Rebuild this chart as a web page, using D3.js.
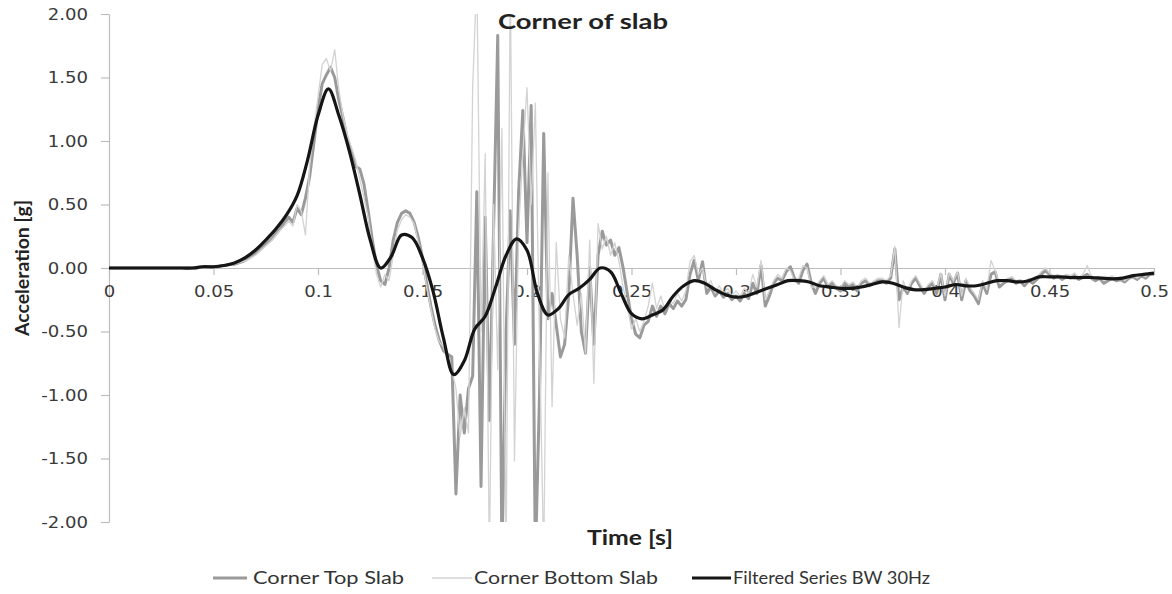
<!DOCTYPE html>
<html>
<head>
<meta charset="utf-8">
<script src="https://cdn.jsdelivr.net/npm/d3@7"></script>
<style>
  html, body { margin: 0; padding: 0; background: #ffffff; }
  svg { display: block; }
</style>
</head>
<body>
<svg id="chart" width="1172" height="594"></svg>
<script>
// Accelerometer records at the corner of the slab, sampled every 2 ms
const sampleStep = 0.002;

const topSlab = [
  0,0,0,0,0,0,0,0,0,0,0,0,0,0,0,0,0,0,0,0,
  0.00,0.00,0.01,0.01,0.01,0.01,0.01,0.02,0.02,0.03,
  0.03,0.04,0.05,0.07,0.09,0.11,0.14,0.17,0.20,0.23,
  0.27,0.31,0.36,0.40,0.36,0.47,0.42,0.55,0.72,0.98,
  1.25,1.45,1.52,1.58,1.50,1.32,1.18,1.02,0.92,0.80,
  0.78,0.66,0.45,0.22,0.02,-0.10,-0.13,0.00,0.22,0.36,
  0.43,0.45,0.43,0.36,0.24,0.08,-0.12,-0.30,-0.45,-0.57,
  -0.65,-0.68,-0.70,-1.78,-1.00,-1.30,-0.95,-0.85,0.60,-1.72,
  0.40,-1.20,0.30,1.83,-2.30,-0.50,0.45,-0.60,0.60,1.24,
  0.20,1.28,-2.30,-1.00,1.06,-0.40,-0.20,-0.45,-0.70,-0.60,
  -0.20,0.55,0.10,-0.50,-0.67,0.00,-0.60,0.10,0.29,0.18,
  0.22,0.10,0.16,0.00,-0.20,-0.40,-0.52,-0.55,-0.45,-0.42,
  -0.30,-0.38,-0.30,-0.36,-0.28,-0.32,-0.26,-0.30,-0.25,-0.05,
  0.06,-0.10,0.05,-0.20,-0.15,-0.22,-0.18,-0.23,-0.20,-0.25,
  -0.22,-0.26,-0.20,-0.24,-0.12,-0.20,0.02,-0.30,-0.22,-0.12,
  -0.08,-0.10,-0.03,0.01,-0.08,-0.12,-0.02,0.03,-0.12,-0.20,
  -0.12,-0.08,-0.15,-0.12,-0.16,-0.18,-0.12,-0.15,-0.13,-0.18,
  -0.12,-0.10,-0.14,-0.12,-0.10,-0.10,-0.12,-0.08,0.15,-0.25,
  -0.15,-0.20,-0.12,-0.08,-0.14,-0.20,-0.15,-0.12,-0.20,-0.05,
  -0.25,-0.05,-0.12,-0.04,-0.25,-0.10,-0.18,-0.22,-0.28,-0.12,
  -0.20,-0.05,-0.03,-0.15,-0.12,-0.10,-0.08,-0.12,-0.10,-0.14,
  -0.10,-0.12,-0.09,-0.05,-0.02,-0.05,-0.08,-0.06,-0.09,-0.07,
  -0.08,-0.06,-0.09,-0.07,-0.05,-0.08,-0.10,-0.08,-0.12,-0.10,
  -0.08,-0.10,-0.09,-0.11,-0.08,-0.07,-0.09,-0.06,-0.08,-0.05,
  -0.05
];

const bottomSlab = [
  0,0,0,0,0,0,0,0,0,0,0,0,0,0,0,0,0,0,0,0,
  0.00,0.00,0.00,0.01,0.01,0.01,0.01,0.02,0.02,0.03,
  0.03,0.04,0.05,0.06,0.08,0.10,0.13,0.16,0.19,0.22,
  0.26,0.30,0.33,0.37,0.33,0.50,0.45,0.26,0.80,1.10,
  1.35,1.60,1.65,1.55,1.72,1.40,1.20,1.05,0.95,0.85,
  0.70,0.55,0.40,0.15,-0.05,-0.15,-0.05,-0.10,0.10,0.30,
  0.38,0.42,0.40,0.35,0.20,0.05,-0.15,-0.32,-0.48,-0.58,
  -0.62,-0.72,-0.80,-0.95,-1.33,-1.10,-1.30,1.42,2.30,-0.50,
  0.90,-2.30,0.50,-0.80,1.10,-2.30,2.30,-1.52,0.30,0.90,
  1.42,0.50,1.30,-0.60,-2.30,0.75,-1.09,0.20,-0.40,-0.55,
  0.10,-0.20,-0.45,-0.20,-0.67,0.22,-0.91,0.35,0.15,0.25,
  0.10,0.20,0.05,-0.15,-0.30,-0.48,-0.40,-0.50,-0.42,-0.30,
  -0.12,-0.32,-0.22,-0.33,-0.25,-0.28,-0.20,-0.26,-0.18,0.05,
  0.10,-0.05,0.00,-0.15,-0.10,-0.20,-0.14,-0.20,-0.16,-0.22,
  -0.18,-0.22,-0.16,-0.20,-0.05,-0.15,0.06,-0.25,-0.18,-0.10,
  -0.05,-0.08,0.00,-0.02,-0.10,-0.08,0.02,0.00,-0.15,-0.15,
  -0.10,-0.06,-0.13,-0.10,-0.14,-0.15,-0.10,-0.13,-0.11,-0.15,
  -0.10,-0.08,-0.12,-0.10,-0.08,-0.08,-0.10,-0.06,0.17,-0.47,
  -0.10,-0.18,-0.10,-0.06,-0.12,-0.18,-0.13,-0.10,-0.17,-0.04,
  -0.22,-0.04,-0.10,-0.03,-0.22,-0.08,-0.15,-0.20,-0.25,-0.10,
  -0.17,0.06,-0.02,-0.12,-0.10,-0.08,-0.07,-0.10,-0.09,-0.12,
  -0.08,-0.10,-0.07,-0.03,0.00,-0.04,-0.06,-0.05,-0.08,-0.05,
  -0.06,-0.04,-0.07,-0.05,0.02,-0.06,-0.08,-0.07,-0.10,-0.08,
  -0.06,-0.09,-0.07,-0.10,-0.07,-0.06,-0.08,-0.05,-0.07,-0.04,
  -0.04
];

// Butterworth 30 Hz filtered signal, every 5 ms
const filteredStep = 0.005;
const filteredSeries = [
  0.00,0.00,0.00,0.00,0.00,0.00,0.00,0.00,0.00,0.01,
  0.01,0.02,0.04,0.08,0.14,0.22,0.31,0.42,0.57,0.85,
  1.20,1.41,1.20,0.92,0.58,0.22,0.00,0.09,0.26,0.24,
  0.08,-0.18,-0.55,-0.84,-0.73,-0.48,-0.38,-0.15,0.10,0.23,
  0.14,-0.20,-0.37,-0.32,-0.21,-0.16,-0.09,0.00,-0.03,-0.20,
  -0.36,-0.40,-0.37,-0.33,-0.22,-0.14,-0.10,-0.12,-0.17,-0.21,
  -0.23,-0.22,-0.19,-0.16,-0.13,-0.10,-0.10,-0.11,-0.14,-0.15,
  -0.16,-0.16,-0.15,-0.13,-0.11,-0.12,-0.15,-0.17,-0.17,-0.16,
  -0.15,-0.13,-0.14,-0.14,-0.12,-0.10,-0.10,-0.11,-0.10,-0.07,
  -0.07,-0.07,-0.075,-0.075,-0.075,-0.08,-0.085,-0.08,-0.06,-0.05,
  -0.04
];

const xTicks = [0, 0.05, 0.1, 0.15, 0.2, 0.25, 0.3, 0.35, 0.4, 0.45, 0.5];
const xTickLabels = ["0", "0.05", "0.1", "0.15", "0.2", "0.25", "0.3", "0.35", "0.4", "0.45", "0.5"];
const yTicks = [-2, -1.5, -1, -0.5, 0, 0.5, 1, 1.5, 2];
const yTickLabels = ["-2.00", "-1.50", "-1.00", "-0.50", "0.00", "0.50", "1.00", "1.50", "2.00"];
const seriesNames = ["Corner Top Slab", "Corner Bottom Slab", "Filtered Series BW 30Hz"];

const svg = d3.select("#chart");
const plot = { left: 109, right: 1154, top: 14, bottom: 522 };

const x = d3.scaleLinear().domain([0, 0.5]).range([plot.left, plot.right]);
const y = d3.scaleLinear().domain([-2, 2]).range([plot.bottom, plot.top]);

const axisColor = "#bdbdbd";
const labelColor = "#3a3a3a";
const tickFont = "'DejaVu Sans', Verdana, sans-serif";
const titleFont = "Lato, 'Open Sans', sans-serif";

// stretch a text element to a given width
function fitWidth(sel, w) {
  sel.attr("textLength", w).attr("lengthAdjust", "spacingAndGlyphs");
}
function widen(sel, f) {
  sel.each(function () {
    const w = this.getComputedTextLength();
    this.setAttribute("textLength", w * f);
    this.setAttribute("lengthAdjust", "spacingAndGlyphs");
  });
}

// Y axis
const yAxis = svg.append("g")
  .attr("transform", `translate(${plot.left},0)`)
  .call(d3.axisLeft(y).tickValues(yTicks).tickFormat((d, i) => yTickLabels[i]).tickSize(8).tickPadding(13).tickSizeOuter(0));
yAxis.select(".domain").attr("stroke", axisColor).attr("stroke-width", 1.2);
yAxis.selectAll(".tick line").attr("stroke", axisColor).attr("stroke-width", 1.2);
yAxis.selectAll(".tick text")
  .attr("fill", labelColor).style("font-family", tickFont).style("font-size", "16px")
  .call(widen, 1.13);

// X axis along zero acceleration
const xAxis = svg.append("g")
  .attr("transform", `translate(0,${y(0)})`)
  .call(d3.axisBottom(x).tickValues(xTicks).tickFormat((d, i) => xTickLabels[i]).tickSize(7).tickPadding(11).tickSizeOuter(0));
xAxis.select(".domain").attr("stroke", axisColor).attr("stroke-width", 1.2);
xAxis.selectAll(".tick line").attr("stroke", axisColor).attr("stroke-width", 1.2);
xAxis.selectAll(".tick text")
  .attr("fill", labelColor).style("font-family", tickFont).style("font-size", "16px")
  .call(widen, 1.13);

// Plot area clip
svg.append("clipPath").attr("id", "plot-clip")
  .append("rect")
  .attr("x", plot.left).attr("y", plot.top)
  .attr("width", plot.right - plot.left).attr("height", plot.bottom - plot.top);

const rawLine = d3.line()
  .x((d, i) => x(i * sampleStep))
  .y(d => y(d))
  .curve(d3.curveLinear);

const smoothLine = d3.line()
  .x((d, i) => x(i * filteredStep))
  .y(d => y(d))
  .curve(d3.curveCatmullRom.alpha(0.5));

const series = svg.append("g").attr("clip-path", "url(#plot-clip)");

series.append("path")
  .datum(topSlab)
  .attr("d", rawLine)
  .attr("fill", "none")
  .attr("stroke", "#9a9a9a")
  .attr("stroke-width", 3)
  .attr("stroke-linejoin", "round");

series.append("path")
  .datum(bottomSlab)
  .attr("d", rawLine)
  .attr("fill", "none")
  .attr("stroke", "#d3d3d3")
  .attr("stroke-width", 1.3)
  .attr("stroke-linejoin", "round");

series.append("path")
  .datum(filteredSeries)
  .attr("d", smoothLine)
  .attr("fill", "none")
  .attr("stroke", "#151515")
  .attr("stroke-width", 3.2)
  .attr("stroke-linejoin", "round");

// Titles
svg.append("text")
  .attr("x", 583).attr("y", 29)
  .attr("text-anchor", "middle")
  .style("font-family", titleFont).style("font-weight", 700).style("font-size", "21px")
  .attr("fill", "#222")
  .text("Corner of slab")
  .call(fitWidth, 170);

svg.append("text")
  .attr("transform", `translate(29,268) rotate(-90)`)
  .attr("text-anchor", "middle")
  .style("font-family", titleFont).style("font-weight", 700).style("font-size", "19px")
  .attr("fill", "#222")
  .text("Acceleration [g]")
  .call(fitWidth, 136);

svg.append("text")
  .attr("x", 630).attr("y", 545)
  .attr("text-anchor", "middle")
  .style("font-family", titleFont).style("font-weight", 700).style("font-size", "20px")
  .attr("fill", "#222")
  .text("Time [s]")
  .call(fitWidth, 86);

// Legend
const legendItems = [
  { name: seriesNames[0], color: "#9a9a9a", width: 3, x1: 213, x2: 247, tx: 253, tw: 151 },
  { name: seriesNames[1], color: "#d3d3d3", width: 1.3, x1: 432, x2: 472, tx: 474, tw: 184 },
  { name: seriesNames[2], color: "#151515", width: 3.2, x1: 692, x2: 731, tx: 733, tw: 197 }
];
const legend = svg.append("g");
legendItems.forEach(it => {
  legend.append("line")
    .attr("x1", it.x1).attr("x2", it.x2).attr("y1", 578).attr("y2", 578)
    .attr("stroke", it.color).attr("stroke-width", it.width);
  legend.append("text")
    .attr("x", it.tx).attr("y", 584)
    .style("font-family", titleFont).style("font-size", "17px")
    .attr("fill", "#333")
    .text(it.name)
    .call(fitWidth, it.tw);
});
</script>
</body>
</html>
